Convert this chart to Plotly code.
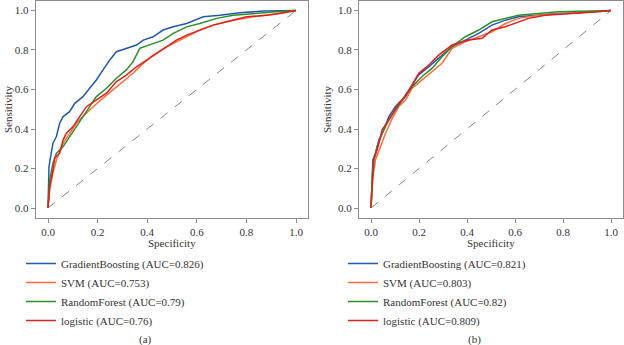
import plotly.graph_objects as go

# ---------------- data ----------------
ticks = [0.0, 0.2, 0.4, 0.6, 0.8, 1.0]
tick_text = ["0.0", "0.2", "0.4", "0.6", "0.8", "1.0"]

# Panel (a)
a_gb_fpr = [0, 0.004, 0.013, 0.020, 0.034, 0.047, 0.061, 0.087, 0.108, 0.141, 0.168, 0.195, 0.222, 0.249, 0.276, 0.316, 0.357, 0.384, 0.424, 0.464, 0.505, 0.559, 0.626, 0.693, 0.774, 0.868, 1]
a_gb_tpr = [0, 0.210, 0.278, 0.328, 0.362, 0.429, 0.463, 0.488, 0.530, 0.564, 0.606, 0.648, 0.699, 0.749, 0.791, 0.808, 0.825, 0.850, 0.867, 0.901, 0.918, 0.934, 0.968, 0.976, 0.988, 0.997, 1]

a_svm_fpr = [0, 0.007, 0.020, 0.034, 0.061, 0.087, 0.114, 0.141, 0.182, 0.222, 0.262, 0.303, 0.343, 0.384, 0.424, 0.478, 0.518, 0.559, 0.612, 0.666, 0.747, 0.828, 0.908, 1]
a_svm_tpr = [0, 0.093, 0.177, 0.244, 0.328, 0.379, 0.429, 0.463, 0.513, 0.556, 0.598, 0.640, 0.682, 0.732, 0.774, 0.816, 0.842, 0.867, 0.901, 0.926, 0.951, 0.968, 0.981, 1]

a_rf_fpr = [0, 0.007, 0.020, 0.034, 0.061, 0.087, 0.114, 0.141, 0.168, 0.195, 0.236, 0.276, 0.316, 0.343, 0.370, 0.424, 0.464, 0.505, 0.559, 0.612, 0.680, 0.747, 0.828, 0.922, 1]
a_rf_tpr = [0, 0.143, 0.227, 0.278, 0.311, 0.362, 0.412, 0.463, 0.513, 0.564, 0.606, 0.657, 0.699, 0.741, 0.808, 0.833, 0.850, 0.884, 0.917, 0.934, 0.960, 0.976, 0.985, 0.993, 1]

a_lr_fpr = [0, 0.007, 0.020, 0.027, 0.047, 0.061, 0.074, 0.101, 0.128, 0.155, 0.195, 0.236, 0.276, 0.316, 0.357, 0.397, 0.437, 0.478, 0.518, 0.559, 0.612, 0.666, 0.720, 0.801, 0.882, 0.935, 1]
a_lr_tpr = [0, 0.109, 0.194, 0.253, 0.278, 0.345, 0.379, 0.412, 0.463, 0.513, 0.547, 0.581, 0.640, 0.673, 0.715, 0.749, 0.783, 0.816, 0.850, 0.875, 0.901, 0.926, 0.943, 0.968, 0.976, 0.985, 1]

# Panel (b)
b_gb_fpr = [0, 0.003, 0.008, 0.019, 0.033, 0.054, 0.075, 0.102, 0.130, 0.158, 0.199, 0.241, 0.283, 0.338, 0.393, 0.449, 0.504, 0.560, 0.615, 0.698, 0.781, 0.864, 0.947, 1]
b_gb_tpr = [0, 0.111, 0.245, 0.279, 0.346, 0.397, 0.464, 0.514, 0.548, 0.598, 0.674, 0.716, 0.758, 0.817, 0.850, 0.884, 0.926, 0.951, 0.968, 0.976, 0.985, 0.988, 0.997, 1]

b_svm_fpr = [0, 0.006, 0.019, 0.040, 0.061, 0.089, 0.116, 0.144, 0.172, 0.213, 0.255, 0.296, 0.338, 0.393, 0.449, 0.504, 0.560, 0.615, 0.698, 0.809, 0.947, 1]
b_svm_tpr = [0, 0.145, 0.245, 0.313, 0.380, 0.455, 0.514, 0.548, 0.607, 0.649, 0.691, 0.733, 0.808, 0.842, 0.867, 0.892, 0.934, 0.960, 0.976, 0.985, 0.993, 1]

b_rf_fpr = [0, 0.006, 0.012, 0.026, 0.047, 0.075, 0.102, 0.144, 0.172, 0.213, 0.255, 0.296, 0.338, 0.393, 0.449, 0.504, 0.560, 0.615, 0.698, 0.781, 1]
b_rf_tpr = [0, 0.178, 0.245, 0.313, 0.380, 0.447, 0.497, 0.565, 0.615, 0.666, 0.708, 0.766, 0.817, 0.867, 0.901, 0.943, 0.960, 0.976, 0.985, 0.993, 1]

b_lr_fpr = [0, 0.006, 0.012, 0.026, 0.047, 0.075, 0.116, 0.144, 0.172, 0.199, 0.241, 0.283, 0.338, 0.407, 0.463, 0.504, 0.560, 0.615, 0.657, 0.726, 0.809, 0.947, 1]
b_lr_tpr = [0, 0.161, 0.245, 0.296, 0.397, 0.447, 0.531, 0.565, 0.624, 0.682, 0.724, 0.775, 0.825, 0.850, 0.859, 0.901, 0.918, 0.943, 0.960, 0.976, 0.982, 0.993, 1]

labels_a = ["GradientBoosting (AUC=0.826)", "SVM (AUC=0.753)", "RandomForest (AUC=0.79)", "logistic (AUC=0.76)"]
labels_b = ["GradientBoosting (AUC=0.821)", "SVM (AUC=0.803)", "RandomForest (AUC=0.82)", "logistic (AUC=0.809)"]
colors = ["#2259ad", "#ff6d3a", "#2a8f2a", "#e0201c"]

diag = [0, 1]

# ---------------- figure ----------------
FONT = "Liberation Serif"
fig = go.Figure()

series_a = [(a_gb_fpr, a_gb_tpr), (a_svm_fpr, a_svm_tpr), (a_rf_fpr, a_rf_tpr), (a_lr_fpr, a_lr_tpr)]
series_b = [(b_gb_fpr, b_gb_tpr), (b_svm_fpr, b_svm_tpr), (b_rf_fpr, b_rf_tpr), (b_lr_fpr, b_lr_tpr)]

for (fx, ty), lab, col in zip(series_a, labels_a, colors):
    fig.add_trace(go.Scatter(x=fx, y=ty, mode="lines", name=lab, line=dict(color=col, width=1.5),
                             xaxis="x", yaxis="y", legend="legend"))
fig.add_trace(go.Scatter(x=diag, y=diag, mode="lines", line=dict(color="#666666", width=0.8, dash="dash"),
                         xaxis="x", yaxis="y", showlegend=False))

for (fx, ty), lab, col in zip(series_b, labels_b, colors):
    fig.add_trace(go.Scatter(x=fx, y=ty, mode="lines", name=lab, line=dict(color=col, width=1.5),
                             xaxis="x2", yaxis="y2", legend="legend2"))
fig.add_trace(go.Scatter(x=diag, y=diag, mode="lines", line=dict(color="#666666", width=0.8, dash="dash"),
                         xaxis="x2", yaxis="y2", showlegend=False))

W, H = 624, 345
axis_common = dict(range=[-0.05, 1.05], tickvals=ticks, ticktext=tick_text, showline=True, mirror=True,
                   linecolor="#8c8c8c", linewidth=1, ticks="outside", ticklen=4, tickcolor="#8c8c8c",
                   showgrid=False, zeroline=False, automargin=False,
                   tickfont=dict(family=FONT, size=11, color="#333333"))

ydom = [1 - 217.9 / H, 1 - 0.6 / H]
fig.update_layout(
    width=W, height=H, margin=dict(l=0, r=0, t=0, b=0, autoexpand=False),
    paper_bgcolor="white", plot_bgcolor="white",
    font=dict(family=FONT, size=11, color="#333333"),
    xaxis=dict(domain=[35.6 / W, 308.4 / W], anchor="y", **axis_common),
    yaxis=dict(domain=ydom, anchor="x", **axis_common),
    xaxis2=dict(domain=[359 / W, 623 / W], anchor="y2", **axis_common),
    yaxis2=dict(domain=ydom, anchor="x2", **axis_common),
    legend=dict(x=21 / W, y=1 - 249 / H, xanchor="left", yanchor="top", bgcolor="rgba(0,0,0,0)",
                font=dict(family=FONT, size=11, color="#333333"), tracegroupgap=0),
    legend2=dict(x=343 / W, y=1 - 249 / H, xanchor="left", yanchor="top", bgcolor="rgba(0,0,0,0)",
                 font=dict(family=FONT, size=11, color="#333333"), tracegroupgap=0),
    showlegend=True,
)

ann = []
for xc in [172 / W, 491 / W]:
    ann.append(dict(text="Specificity", x=xc, y=1 - 243 / H, xref="paper", yref="paper",
                    xanchor="center", yanchor="middle",
                    showarrow=False, font=dict(family=FONT, size=11, color="#333333")))
for xc in [8 / W, 327 / W]:
    ann.append(dict(text="Sensitivity", x=xc, y=1 - 109 / H, xref="paper", yref="paper", textangle=-90,
                    xanchor="center", yanchor="middle",
                    showarrow=False, font=dict(family=FONT, size=11, color="#333333")))
ann.append(dict(text="(a)", x=145 / W, y=1 - 339 / H, xref="paper", yref="paper", showarrow=False,
                xanchor="center", yanchor="middle", font=dict(family=FONT, size=11, color="#333333")))
ann.append(dict(text="(b)", x=474 / W, y=1 - 339 / H, xref="paper", yref="paper", showarrow=False,
                xanchor="center", yanchor="middle", font=dict(family=FONT, size=11, color="#333333")))
fig.update_layout(annotations=ann)

fig.write_html("out.html", config={"displayModeBar": False},
               post_script="document.body.style.margin='0';document.body.style.overflow='hidden';")
